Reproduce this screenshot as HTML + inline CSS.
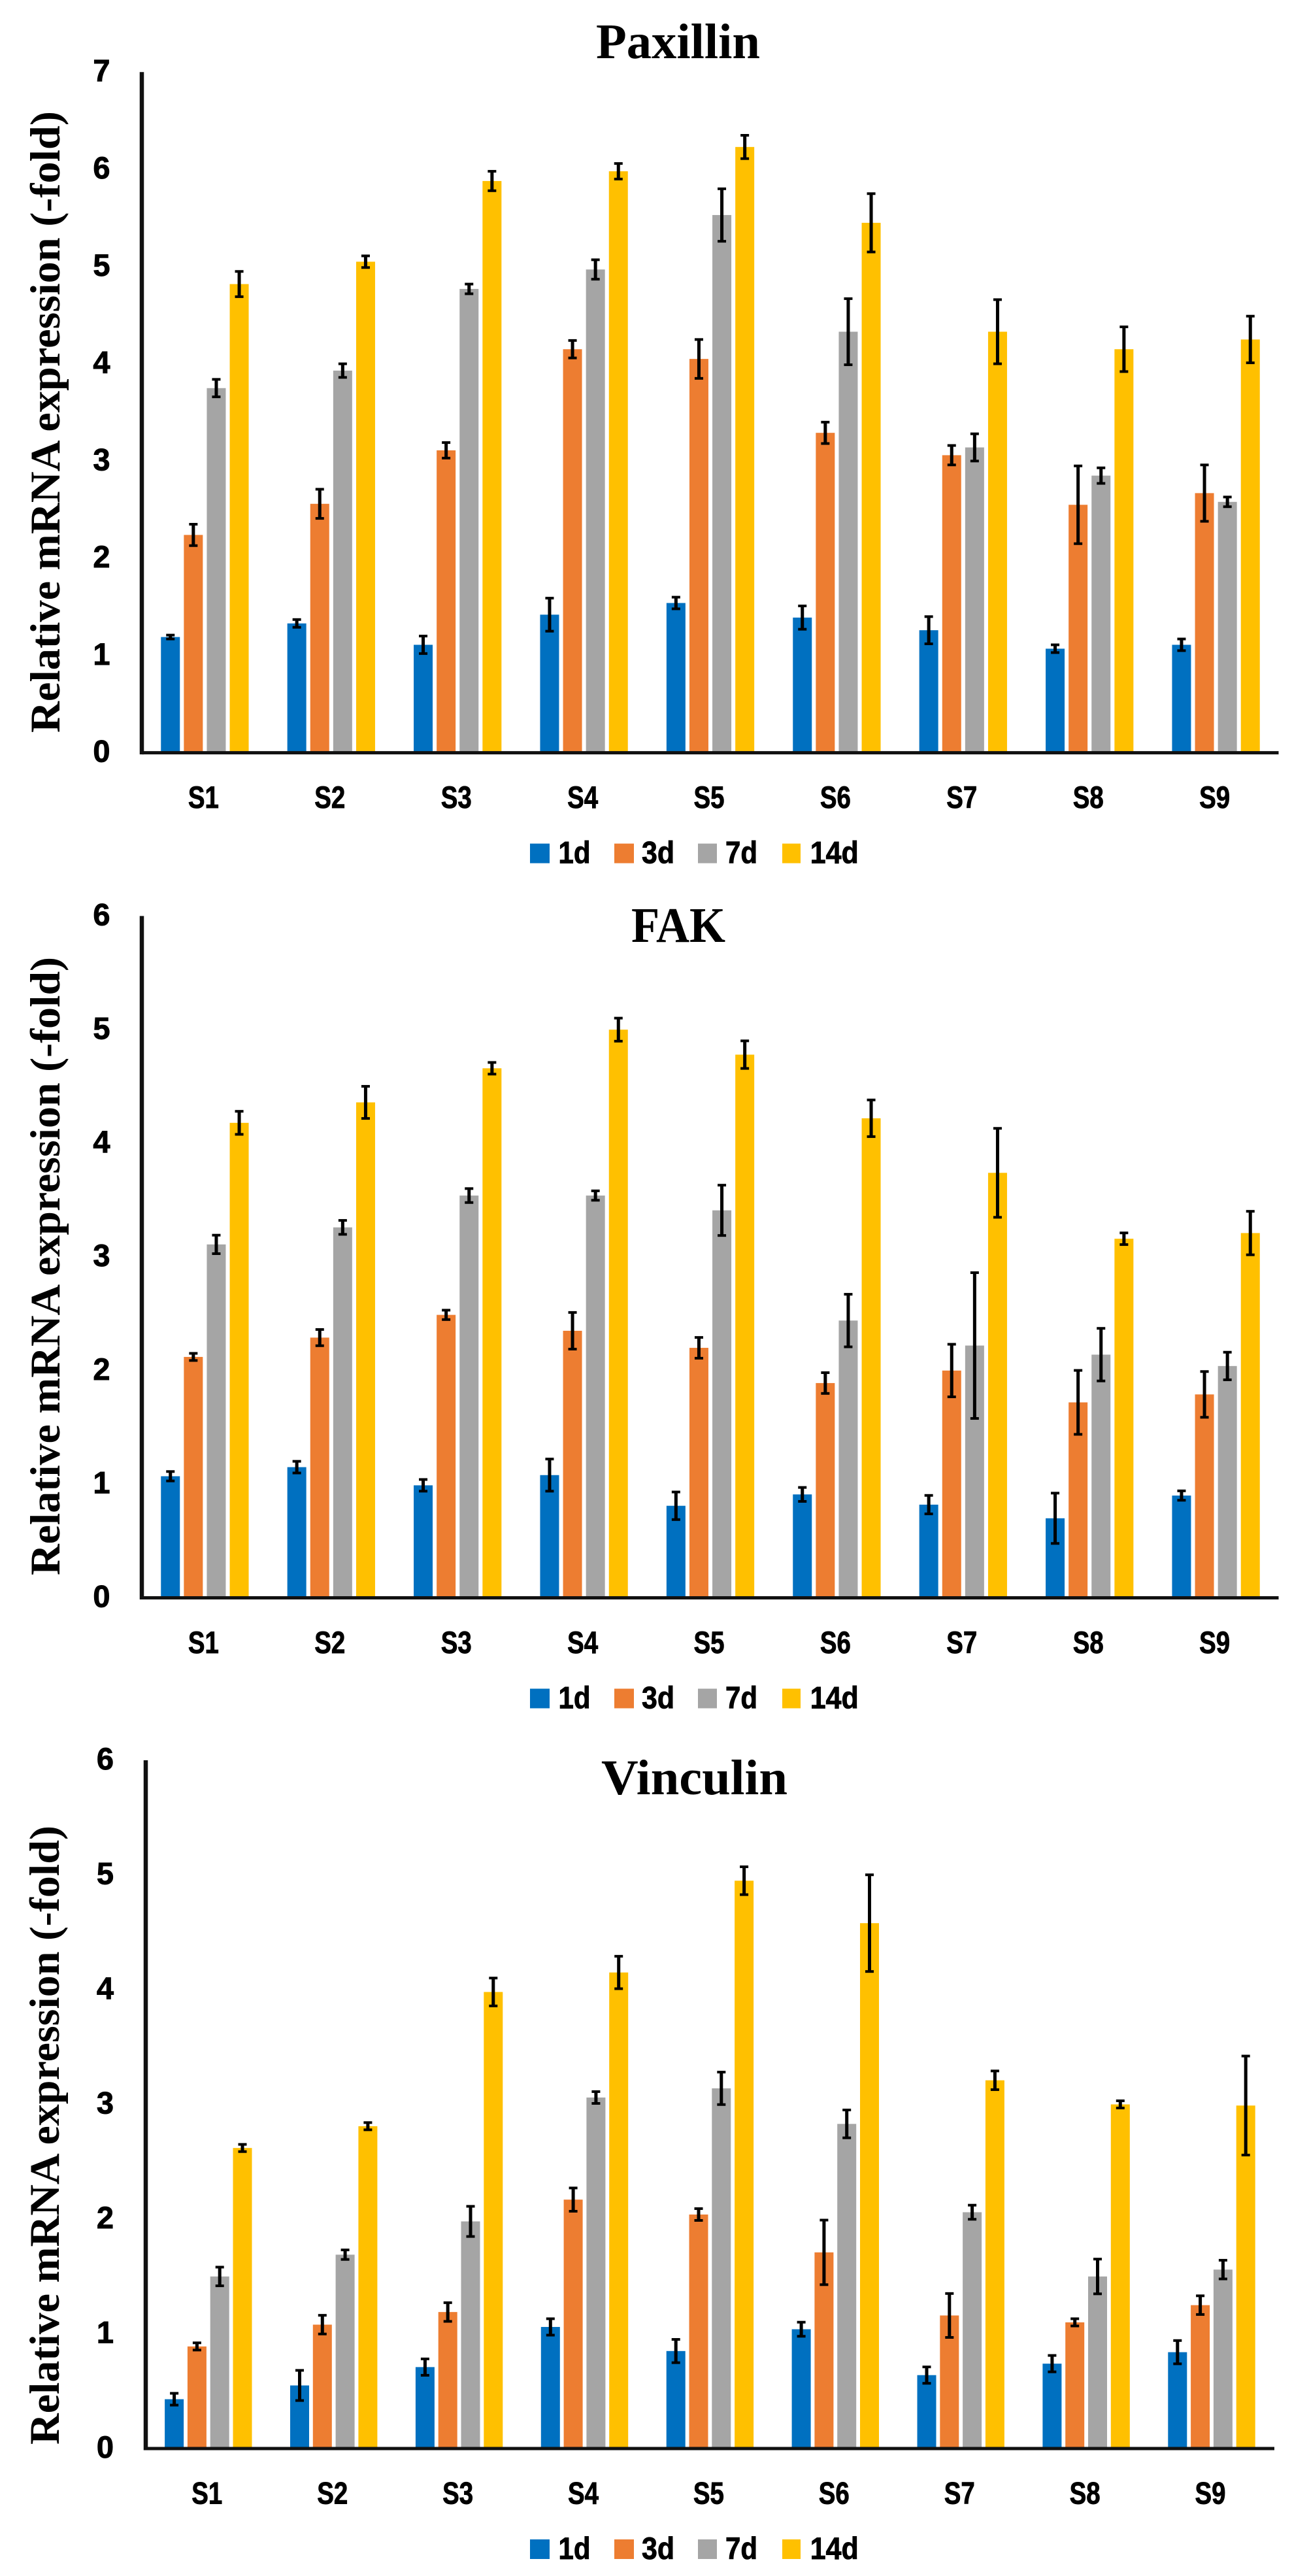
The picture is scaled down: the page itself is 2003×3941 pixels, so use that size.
<!DOCTYPE html>
<html lang="en">
<head>
<meta charset="utf-8">
<title>Relative mRNA expression of Paxillin, FAK and Vinculin</title>
<style>
  html, body { margin: 0; padding: 0; background: #fff; }
  body { width: 2003px; height: 3941px; overflow: hidden; }
  svg { display: block; }
  .chart-title { font-family: "Liberation Serif", serif; font-weight: bold; font-size: 76px; fill: #000; }
  .y-title { font-family: "Liberation Serif", serif; font-weight: bold; font-size: 65px; fill: #000; }
  .tick { font-family: "Liberation Sans", sans-serif; font-weight: bold; font-size: 47px; fill: #000; stroke: #000; stroke-width: 0.9px; }
</style>
</head>
<body>
<svg id="figure" xmlns="http://www.w3.org/2000/svg" width="2003" height="3941" viewBox="0 0 2003 3941">
  <rect x="0" y="0" width="2003" height="3941" fill="#ffffff"/>

  <g id="panel-paxillin">
    <text class="chart-title" x="912" y="89" textLength="251" lengthAdjust="spacingAndGlyphs">Paxillin</text>
    <text class="y-title" transform="translate(91,1121) rotate(-90)" textLength="951" lengthAdjust="spacingAndGlyphs">Relative mRNA expression (-fold)</text>
  </g>

  <g id="panel-fak">
    <text class="chart-title" x="966" y="1441" textLength="144" lengthAdjust="spacingAndGlyphs">FAK</text>
    <text class="y-title" transform="translate(91,2410) rotate(-90)" textLength="946" lengthAdjust="spacingAndGlyphs">Relative mRNA expression (-fold)</text>
  </g>

  <g id="panel-vinculin">
    <text class="chart-title" x="920" y="2745" textLength="285" lengthAdjust="spacingAndGlyphs">Vinculin</text>
    <text class="y-title" transform="translate(90,3740) rotate(-90)" textLength="947" lengthAdjust="spacingAndGlyphs">Relative mRNA expression (-fold)</text>
  </g>
</svg>

<script>
// ---------- shared categories ----------
const categories = ["S1", "S2", "S3", "S4", "S5", "S6", "S7", "S8", "S9"];
const seriesNames = ["1d", "3d", "7d", "14d"];

// ---------- tick labels ----------
const paxillinTicks = [0, 1, 2, 3, 4, 5, 6, 7];
const fakTicks = [0, 1, 2, 3, 4, 5, 6];
const vinculinTicks = [0, 1, 2, 3, 4, 5, 6];

// ---------- Paxillin values and error bars ----------
const paxillin1d = [1.19, 1.33, 1.11, 1.42, 1.54, 1.39, 1.26, 1.07, 1.11];
const paxillin3d = [2.24, 2.56, 3.11, 4.15, 4.05, 3.29, 3.06, 2.55, 2.67];
const paxillin7d = [3.75, 3.93, 4.77, 4.97, 5.53, 4.33, 3.14, 2.85, 2.58];
const paxillin14d = [4.82, 5.05, 5.88, 5.98, 6.23, 5.45, 4.33, 4.15, 4.25];
const paxillin1dErr = [0.03, 0.05, 0.10, 0.18, 0.07, 0.13, 0.15, 0.05, 0.07];
const paxillin3dErr = [0.12, 0.16, 0.09, 0.10, 0.21, 0.12, 0.11, 0.41, 0.30];
const paxillin7dErr = [0.10, 0.08, 0.06, 0.11, 0.28, 0.35, 0.15, 0.09, 0.06];
const paxillin14dErr = [0.14, 0.07, 0.11, 0.09, 0.13, 0.31, 0.34, 0.24, 0.25];

// ---------- FAK values and error bars ----------
const fak1d = [1.07, 1.15, 0.99, 1.08, 0.81, 0.91, 0.82, 0.70, 0.90];
const fak3d = [2.12, 2.29, 2.49, 2.35, 2.20, 1.89, 2.00, 1.72, 1.79];
const fak7d = [3.11, 3.26, 3.54, 3.54, 3.41, 2.44, 2.22, 2.14, 2.04];
const fak14d = [4.18, 4.36, 4.66, 5.00, 4.78, 4.22, 3.74, 3.16, 3.21];
const fak1dErr = [0.05, 0.06, 0.06, 0.15, 0.13, 0.07, 0.09, 0.23, 0.05];
const fak3dErr = [0.04, 0.08, 0.05, 0.17, 0.10, 0.10, 0.24, 0.29, 0.21];
const fak7dErr = [0.09, 0.07, 0.07, 0.05, 0.23, 0.24, 0.65, 0.24, 0.13];
const fak14dErr = [0.11, 0.15, 0.06, 0.11, 0.13, 0.17, 0.40, 0.06, 0.20];

// ---------- Vinculin values and error bars ----------
const vinculin1d = [0.43, 0.55, 0.71, 1.06, 0.85, 1.04, 0.64, 0.74, 0.84];
const vinculin3d = [0.89, 1.08, 1.19, 2.17, 2.04, 1.71, 1.16, 1.10, 1.25];
const vinculin7d = [1.50, 1.69, 1.98, 3.06, 3.14, 2.83, 2.06, 1.50, 1.56];
const vinculin14d = [2.62, 2.81, 3.98, 4.15, 4.95, 4.58, 3.21, 3.00, 2.99];
const vinculin1dErr = [0.06, 0.14, 0.08, 0.08, 0.11, 0.07, 0.08, 0.08, 0.11];
const vinculin3dErr = [0.04, 0.09, 0.09, 0.11, 0.06, 0.29, 0.20, 0.04, 0.09];
const vinculin7dErr = [0.09, 0.05, 0.14, 0.06, 0.15, 0.13, 0.07, 0.16, 0.09];
const vinculin14dErr = [0.04, 0.04, 0.13, 0.15, 0.13, 0.43, 0.09, 0.04, 0.44];

// ---------- drawing ----------
const NS = "http://www.w3.org/2000/svg";
const barColors = ["#0070C0", "#ED7D31", "#A5A5A5", "#FFC000"];
const capInset = 1.5;

function make(tag, attrs, parent, text) {
  const node = document.createElementNS(NS, tag);
  for (const k in attrs) node.setAttribute(k, attrs[k]);
  if (text !== undefined) node.textContent = text;
  parent.appendChild(node);
  return node;
}

function drawPanel(cfg) {
  const root = document.getElementById(cfg.id);
  const yScale = v => cfg.base - (v / cfg.maxTick) * (cfg.base - cfg.top);
  const xCenter = i => cfg.firstCenter + i * cfg.band;

  // bars
  cfg.values.forEach((vals, s) => {
    vals.forEach((v, i) => {
      const cx = xCenter(i) + (s - 1.5) * cfg.step;
      const r = make("rect", { x: cx - 14.5, y: yScale(v), width: 29, height: cfg.base - yScale(v), fill: barColors[s] }, root);
      
      
    });
  });

  // axes
  const yAxis = make("line", { x1: cfg.axisX, x2: cfg.axisX, y1: cfg.top, y2: cfg.base + 2.5, stroke: "#111", "stroke-width": 6.5 }, root);
  
  
  const xAxis = make("line", { x1: cfg.axisX, x2: cfg.axisEnd, y1: cfg.base, y2: cfg.base, stroke: "#111", "stroke-width": 5 }, root);
  
  

  // error bars
  cfg.values.forEach((vals, s) => {
    vals.forEach((v, i) => {
      const cx = xCenter(i) + (s - 1.5) * cfg.step;
      const e = cfg.errors[s][i];
      const yHigh = yScale(v + e) + capInset;
      const yLow = yScale(v - e) - capInset;
      const g = make("g", { stroke: "#000", fill: "none" }, root);
      
      
      make("line", { x1: cx, x2: cx, y1: yHigh, y2: yLow, "stroke-width": 5 }, g);
      make("line", { x1: cx - 6.5, x2: cx + 6.5, y1: yHigh, y2: yHigh, "stroke-width": 4 }, g);
      make("line", { x1: cx - 6.5, x2: cx + 6.5, y1: yLow, y2: yLow, "stroke-width": 4 }, g);
    });
  });

  // y tick labels
  cfg.ticks.forEach(t => {
    const label = make("text", { class: "tick", x: cfg.tickX, y: yScale(t) + 14, "text-anchor": "middle" }, root, String(t));
    
    
  });

  // x category labels
  categories.forEach((c, i) => {
    const label = make("text", { class: "tick", x: xCenter(i) - 24 - 1.5, y: cfg.base + 84.5, textLength: 47, lengthAdjust: "spacingAndGlyphs" }, root, c);
    
    
  });

  // legend
  const swatchLeft = [811, 940, 1068, 1197];
  const swatchWide = [30, 30, 29, 28];
  const textLeft = [854.5, 982, 1110, 1239.7];
  const textWide = [49, 50, 49, 74];
  const legendBottom = cfg.base + 169;
  seriesNames.forEach((n, s) => {
    const entry = make("g", {}, root);
    
    
    const sw = make("rect", { x: swatchLeft[s], y: legendBottom - 30, width: swatchWide[s], height: 30, fill: barColors[s] }, entry);
    
    
    const tx = make("text", { class: "tick", x: textLeft[s], y: legendBottom, textLength: textWide[s], lengthAdjust: "spacingAndGlyphs" }, entry, n);
    
    
  });
}

drawPanel({
  id: "panel-paxillin", name: "paxillin",
  values: [paxillin1d, paxillin3d, paxillin7d, paxillin14d],
  errors: [paxillin1dErr, paxillin3dErr, paxillin7dErr, paxillin14dErr],
  ticks: paxillinTicks, maxTick: 7,
  top: 110.3, base: 1151.6, axisX: 217, axisEnd: 1956.5,
  firstCenter: 313.4, band: 193.4, step: 35.1, tickX: 155.5
});
drawPanel({
  id: "panel-fak", name: "fak",
  values: [fak1d, fak3d, fak7d, fak14d],
  errors: [fak1dErr, fak3dErr, fak7dErr, fak14dErr],
  ticks: fakTicks, maxTick: 6,
  top: 1401.4, base: 2444.5, axisX: 217, axisEnd: 1956.5,
  firstCenter: 313.4, band: 193.4, step: 35.1, tickX: 155.5
});
drawPanel({
  id: "panel-vinculin", name: "vinculin",
  values: [vinculin1d, vinculin3d, vinculin7d, vinculin14d],
  errors: [vinculin1dErr, vinculin3dErr, vinculin7dErr, vinculin14dErr],
  ticks: vinculinTicks, maxTick: 6,
  top: 2693, base: 3746, axisX: 223, axisEnd: 1950,
  firstCenter: 318.8, band: 191.9, step: 34.8, tickX: 161
});
</script>
</body>
</html>
